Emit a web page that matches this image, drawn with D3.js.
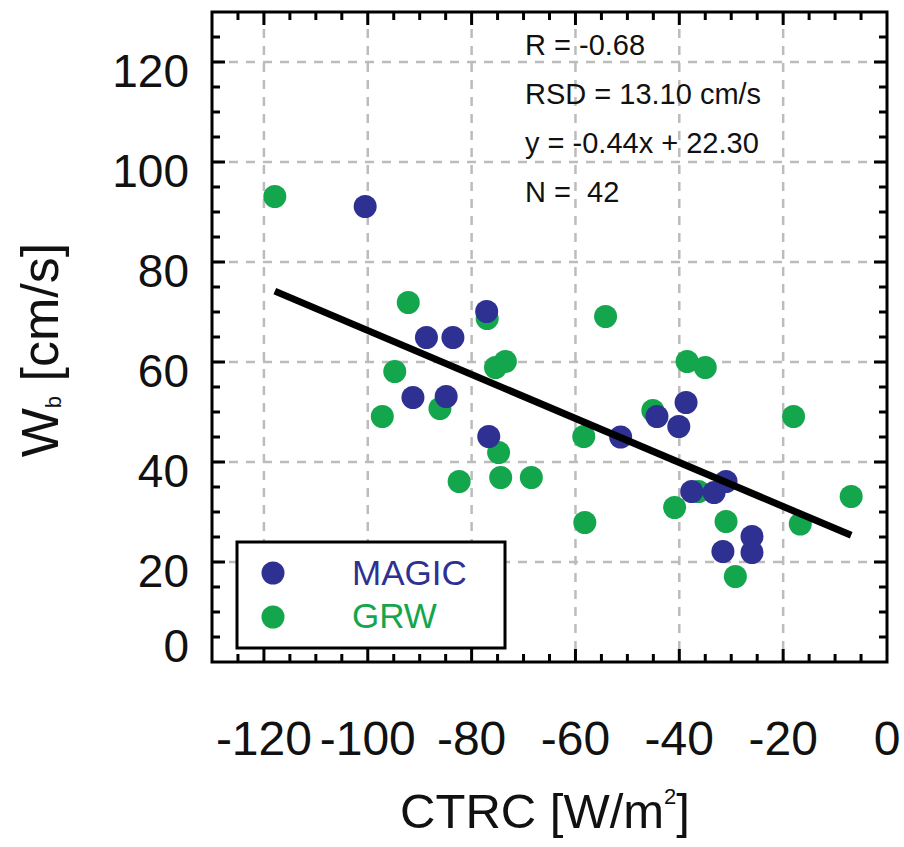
<!DOCTYPE html>
<html>
<head>
<meta charset="utf-8">
<script src="https://cdn.jsdelivr.net/npm/d3@7"></script>
<style>
  body { margin: 0; background: #fff; }
  text { font-family: "Liberation Sans", Arial, Helvetica, sans-serif; white-space: pre; }
</style>
</head>
<body>
<svg id="chart" width="904" height="847"></svg>
<script>
// MAGIC points (CTRC W/m2, Wb cm/s)
var magic_x = [-100.5, -88.7, -83.6, -77.1, -91.3, -84.9, -76.7, -51.3, -44.3, -38.7,
               -40.1, -37.6, -33.3, -31.0, -31.6, -26.0, -26.0];
var magic_y = [91.1, 64.9, 64.9, 70.1, 52.9, 53.1, 45.1, 45.0, 49.1, 51.9,
               47.1, 34.1, 33.9, 36.1, 22.1, 25.1, 21.9];
// GRW points
var grw_x = [-117.9, -92.2, -94.8, -97.2, -75.4, -73.5, -74.8, -74.4, -68.5, -82.4,
             -77.0, -86.1, -54.2, -38.5, -35.0, -18.0, -58.4, -40.9, -31.0, -58.2,
             -6.9, -16.7, -29.2, -45.1, -36.3];
var grw_y = [93.1, 71.9, 58.1, 49.1, 58.9, 60.1, 41.9, 36.9, 36.9, 36.1,
             68.7, 50.7, 69.1, 60.1, 58.9, 49.1, 45.1, 30.9, 28.1, 27.9,
             33.1, 27.6, 17.1, 50.3, 34.1];
var fit_slope = -0.44, fit_icpt = 22.30;
var stats_lines = ["R = -0.68", "RSD = 13.10 cm/s", "y = -0.44x + 22.30", "N =  42"];
var x_ticks = [-120, -100, -80, -60, -40, -20, 0];
var y_ticks = [0, 20, 40, 60, 80, 100, 120];
var series_names = ["MAGIC", "GRW"];
var series_colors = ["#2e3192", "#14a64c"];

var svg = d3.select("#chart");
var L = 212, R = 887, T = 12, B = 662;
var x = d3.scaleLinear().domain([-130, 0]).range([L, R]);
var y = d3.scaleLinear().domain([0, 130]).range([B, T]);

// dashed grid
var grid = svg.append("g").attr("stroke", "#bcbcbc").attr("stroke-width", 2.5)
  .attr("stroke-dasharray", "9,8");
grid.selectAll("line.gx").data(x_ticks.filter(function(d){ return d > -130 && d < 0; }))
  .enter().append("line")
  .attr("x1", function(d){ return x(d); }).attr("x2", function(d){ return x(d); })
  .attr("y1", T).attr("y2", B);
grid.selectAll("line.gy").data(y_ticks.filter(function(d){ return d > 0; }))
  .enter().append("line")
  .attr("y1", function(d){ return y(d); }).attr("y2", function(d){ return y(d); })
  .attr("x1", L).attr("x2", R);

// points: GRW under MAGIC
function draw_points(xs, ys, col){
  svg.append("g").selectAll("circle").data(d3.range(xs.length)).enter()
    .append("circle")
    .attr("cx", function(i){ return x(xs[i]); })
    .attr("cy", function(i){ return y(ys[i]); })
    .attr("r", 11.5)
    .attr("fill", col);
}
draw_points(grw_x, grw_y, series_colors[1]);
draw_points(magic_x, magic_y, series_colors[0]);

// regression line across data range
var all_x = magic_x.concat(grw_x);
var ext = d3.extent(all_x);
svg.append("line")
  .attr("x1", x(ext[0])).attr("y1", y(fit_slope * ext[0] + fit_icpt))
  .attr("x2", x(ext[1])).attr("y2", y(fit_slope * ext[1] + fit_icpt))
  .attr("stroke", "#000").attr("stroke-width", 7);

// frame + ticks
svg.append("rect").attr("x", L).attr("y", T).attr("width", R - L).attr("height", B - T)
  .attr("fill", "none").attr("stroke", "#000").attr("stroke-width", 3);

var ticks = svg.append("g").attr("stroke", "#000").attr("stroke-width", 3);
var xminor = d3.range(-125, 0, 5);
var yminor = d3.range(5, 130, 5);
ticks.selectAll("line.xb").data(xminor).enter().append("line")
  .attr("x1", function(d){ return x(d); }).attr("x2", function(d){ return x(d); })
  .attr("y1", B).attr("y2", function(d){ return B - (d % 20 == 0 ? 13 : 8); });
ticks.selectAll("line.xt").data(xminor).enter().append("line")
  .attr("x1", function(d){ return x(d); }).attr("x2", function(d){ return x(d); })
  .attr("y1", T).attr("y2", function(d){ return T + (d % 20 == 0 ? 13 : 8); });
ticks.selectAll("line.yl").data(yminor).enter().append("line")
  .attr("y1", function(d){ return y(d); }).attr("y2", function(d){ return y(d); })
  .attr("x1", L).attr("x2", function(d){ return L + (d % 20 == 0 ? 13 : 8); });
ticks.selectAll("line.yr").data(yminor).enter().append("line")
  .attr("y1", function(d){ return y(d); }).attr("y2", function(d){ return y(d); })
  .attr("x1", R).attr("x2", function(d){ return R - (d % 20 == 0 ? 13 : 8); });

// tick labels
svg.append("g").selectAll("text").data(x_ticks).enter().append("text")
  .attr("x", function(d){ return x(d); }).attr("y", 755)
  .attr("text-anchor", "middle").attr("font-size", 48).attr("fill", "#111")
  .text(function(d){ return d; });
svg.append("g").selectAll("text").data(y_ticks).enter().append("text")
  .attr("x", 189).attr("y", function(d){ return Math.min(y(d) + 25, B); })
  .attr("text-anchor", "end").attr("font-size", 46).attr("fill", "#111")
  .text(function(d){ return d; });

// axis titles
var xt = svg.append("text").attr("x", 545).attr("y", 828).attr("text-anchor", "middle")
  .attr("font-size", 49).attr("fill", "#111");
xt.append("tspan").text("CTRC [W/m");
xt.append("tspan").attr("font-size", 22).attr("dy", -24).text("2");
xt.append("tspan").attr("dy", 24).text("]");

var yt = svg.append("text").attr("transform", "translate(58,350) rotate(-90)")
  .attr("text-anchor", "middle").attr("font-size", 52).attr("fill", "#111");
yt.append("tspan").text("W");
yt.append("tspan").attr("font-size", 22).attr("dy", 3).text("b");
yt.append("tspan").attr("dy", -3).text(" [cm/s]");

// stats block
svg.append("g").selectAll("text").data(stats_lines).enter().append("text")
  .attr("x", 525).attr("y", function(d, i){ return 55 + i * 49; })
  .attr("font-size", 29).attr("fill", "#111")
  .text(function(d){ return d; });

// legend
var lg = svg.append("g");
lg.append("rect").attr("x", 237).attr("y", 542).attr("width", 268).attr("height", 106)
  .attr("fill", "#fff").attr("stroke", "#000").attr("stroke-width", 3);
lg.selectAll("circle").data(series_names).enter().append("circle")
  .attr("cx", 273).attr("cy", function(d, i){ return 573 + i * 44; })
  .attr("r", 11.5).attr("fill", function(d, i){ return series_colors[i]; });
lg.selectAll("text").data(series_names).enter().append("text")
  .attr("x", 352).attr("y", function(d, i){ return 585 + i * 43; })
  .attr("font-size", 35).attr("fill", function(d, i){ return series_colors[i]; })
  .text(function(d){ return d; });
</script>
</body>
</html>
